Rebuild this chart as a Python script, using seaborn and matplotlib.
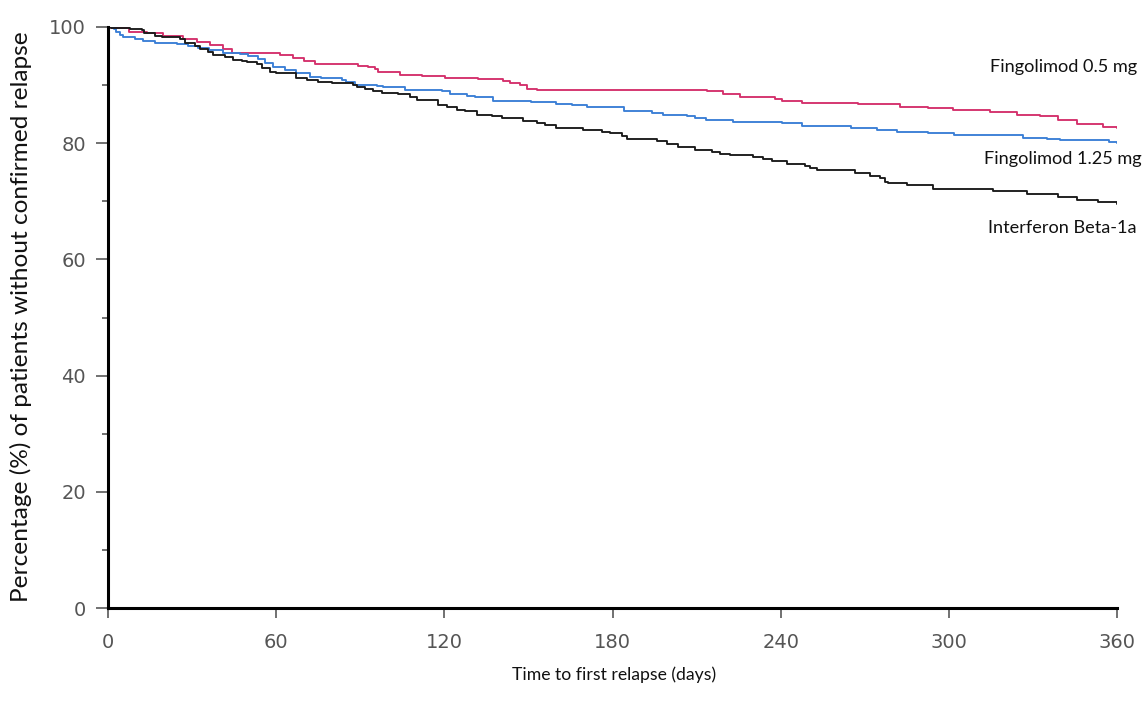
import matplotlib
matplotlib.use("Agg")
import matplotlib.pyplot as plt
from matplotlib.ticker import MultipleLocator
import pandas as pd
import seaborn as sns

# Kaplan-Meier style estimates: time (days) of each step and the level reached
fingo05_days = [0, 1, 7.5, 13.9, 19.6, 26.8, 31.8, 36.4, 41.0, 44.2,
                50.7, 61.4, 66.0, 70.0, 74.0, 89.2, 92.8, 95.3, 96.3, 104.2,
                112.0, 120.2, 132.0, 140.9, 143.4, 147.0, 149.5, 153.1, 213.7, 219.4,
                225.5, 234.4, 238.0, 240.5, 247.6, 267.6, 282.6, 292.5, 301.5, 314.7,
                324.3, 332.5, 338.9, 345.7, 355.0, 360]
fingo05_pct = [100, 99.8, 99.2, 98.9, 98.4, 97.9, 97.5, 96.9, 96.2, 95.6,
               95.5, 95.2, 94.6, 94.2, 93.7, 93.3, 93.1, 92.7, 92.2, 91.8,
               91.6, 91.3, 91.0, 90.7, 90.4, 90.1, 89.4, 89.2, 88.9, 88.4,
               88.0, 87.9, 87.6, 87.3, 87.0, 86.7, 86.3, 86.0, 85.7, 85.3,
               84.9, 84.6, 84.0, 83.3, 82.8, 82.7]

fingo125_days = [0, 2, 3, 4.3, 5.5, 9.6, 12.5, 16.8, 24.5, 28.5,
                 32, 36, 41, 47, 50, 53.5, 56, 59, 63, 67, 72,
                 76, 83.5, 85, 88, 96, 98, 106, 119, 122, 128,
                 131, 137.5, 151, 160, 165.5, 171, 184, 194, 198, 206.5,
                 209.4, 213.5, 223, 240.5, 247.6, 265, 274.4, 281.5, 292.5, 302,
                 326.5, 335, 339.6, 357, 360]
fingo125_pct = [100, 99.7, 99.2, 98.6, 98.3, 98.0, 97.6, 97.3, 97.0, 96.7,
                96.4, 96.0, 95.6, 95.4, 95.0, 94.5, 93.8, 93.2, 92.6, 92.0, 91.4,
                91.2, 90.8, 90.5, 90.1, 89.9, 89.6, 89.2, 88.9, 88.5, 88.2,
                87.9, 87.3, 87.1, 86.8, 86.6, 86.2, 85.5, 85.2, 84.9, 84.6,
                84.3, 84.0, 83.7, 83.5, 83.0, 82.6, 82.3, 81.9, 81.7, 81.4,
                80.9, 80.7, 80.5, 80.2, 80.1]

ifn_days = [0, 1, 7.8, 12, 13, 16.8, 19.3, 25.7, 27.5, 31,
            32.8, 35.7, 37.5, 41.7, 44.6, 47.8, 49.6, 53, 55, 57.8,
            60, 67, 71, 75, 80, 87.4, 89, 91.7, 94.5, 97.8,
            103.5, 107.8, 110.3, 117.7, 120.9, 124.5, 127.5, 131.6, 136.9, 140.6,
            148, 153, 155.8, 160, 169.5, 176.3, 179, 183.3, 185.2, 195.8,
            199.4, 203.3, 209.4, 215.5, 218.4, 222, 230.1, 233.7, 237, 242.2,
            248.7, 250.5, 253, 266.5, 271.9, 275.4, 277.2, 278.3, 285, 294.3,
            315.7, 327.8, 339, 345.7, 353.2, 360]
ifn_pct = [100, 99.8, 99.6, 99.4, 98.9, 98.5, 98.2, 97.9, 97.3, 96.7,
           96.2, 95.7, 95.2, 94.8, 94.4, 94.2, 93.9, 93.6, 92.9, 92.3,
           92.0, 91.3, 90.9, 90.6, 90.3, 90.0, 89.6, 89.3, 89.0, 88.7,
           88.5, 88.0, 87.5, 86.6, 86.2, 85.8, 85.5, 84.9, 84.7, 84.3,
           83.8, 83.4, 83.1, 82.7, 82.2, 81.9, 81.7, 81.2, 80.7, 80.4,
           79.9, 79.4, 78.8, 78.5, 78.2, 78.0, 77.6, 77.3, 76.9, 76.5,
           76.1, 75.7, 75.4, 74.8, 74.4, 74.0, 73.3, 73.1, 72.8, 72.2,
           71.7, 71.3, 70.7, 70.3, 69.8, 69.5]

arm_names = ["Fingolimod 0.5 mg", "Fingolimod 1.25 mg", "Interferon Beta-1a"]
arm_colors = ["#d4306b", "#3a7fd6", "#1a1a1a"]
x_ticks = [0, 60, 120, 180, 240, 300, 360]
y_ticks = [0, 20, 40, 60, 80, 100]

frames = []
for name, d, p in zip(arm_names,
                      [fingo05_days, fingo125_days, ifn_days],
                      [fingo05_pct, fingo125_pct, ifn_pct]):
    frames.append(pd.DataFrame({"day": d, "pct": p, "arm": name}))
km = pd.concat(frames, ignore_index=True)

sns.set_theme(style="white")
plt.rcParams["font.family"] = ["DejaVu Sans"]

fig = plt.figure(figsize=(11.45, 7.04), dpi=100)
ax = fig.add_axes([108 / 1145, 1 - 608 / 704, 1009 / 1145, 581 / 704])

sns.lineplot(data=km, x="day", y="pct", hue="arm", hue_order=arm_names,
             palette=arm_colors, estimator=None, drawstyle="steps-post",
             linewidth=1.35, legend=False, ax=ax)

ax.set_xlim(0, 360)
ax.set_ylim(0, 100)
ax.set_xticks(x_ticks)
ax.set_yticks(y_ticks)
ax.yaxis.set_minor_locator(MultipleLocator(10))

for side in ["top", "right"]:
    ax.spines[side].set_visible(False)
for side in ["left", "bottom"]:
    ax.spines[side].set_color("black")
    ax.spines[side].set_linewidth(2.2)

tick_col = "#4a4a4a"
ax.tick_params(axis="y", which="major", direction="out", length=9, width=1.1,
               color=tick_col, pad=7, labelsize=14, labelcolor="#555555", left=True)
ax.tick_params(axis="y", which="minor", direction="out", length=4.5, width=1.1,
               color=tick_col, left=True)
ax.tick_params(axis="x", which="major", direction="out", length=7, width=1.1,
               color=tick_col, pad=11, labelsize=14, labelcolor="#555555", bottom=True)
for lbl in ax.get_xticklabels() + ax.get_yticklabels():
    lbl.set_family("DejaVu Sans")

label_font = ["Lato", "DejaVu Sans"]
ax.set_xlabel("Time to first relapse (days)", family=label_font, fontsize=12.7,
              color="#111111")
ax.xaxis.set_label_coords(0.502, -0.101)
ax.set_ylabel("Percentage (%) of patients without confirmed relapse",
              family=label_font, fontsize=17.6, color="#111111")
ax.yaxis.label.set_va("center")
ax.yaxis.set_label_coords(-0.086, 0.502)

# arm names at the right-hand end of each curve
end_labels = [(367.1, 92.3), (368.9, 76.5), (367.1, 64.5)]
for name, (tx, ty) in zip(arm_names, end_labels):
    ax.text(tx, ty, name, ha="right", va="baseline", family=label_font,
            fontsize=13.1, color="#111111", clip_on=False)

fig.savefig("out.png", dpi=100)
